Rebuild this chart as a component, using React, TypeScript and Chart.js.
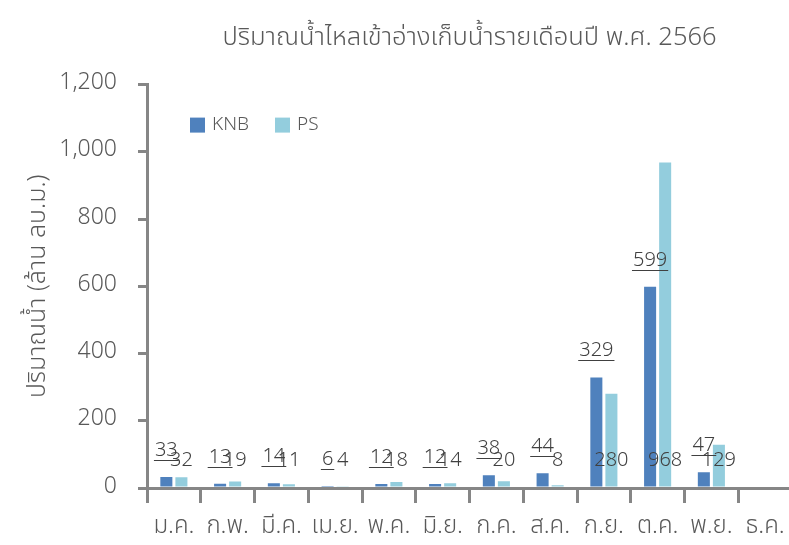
import React, { useEffect, useRef } from 'react';
import { Chart, registerables } from 'chart.js';

Chart.register(...registerables);

const months = ['ม.ค.', 'ก.พ.', 'มี.ค.', 'เม.ย.', 'พ.ค.', 'มิ.ย.', 'ก.ค.', 'ส.ค.', 'ก.ย.', 'ต.ค.', 'พ.ย.', 'ธ.ค.'];
const knbValues: (number | null)[] = [33, 13, 14, 6, 12, 12, 38, 44, 329, 599, 47, null];
const psValues: (number | null)[] = [32, 19, 11, 4, 18, 14, 20, 8, 280, 968, 129, null];
const seriesNames = ['KNB', 'PS'];
const seriesColors = ['#4F81BD', '#93CDDD'];
const yMax = 1200;
const yStep = 200;
const chartTitle = 'ปริมาณน้ำไหลเข้าอ่างเก็บน้ำรายเดือนปี พ.ศ. 2566';
const yAxisTitle = 'ปริมาณน้ำ (ล้าน ลบ.ม.)';

const FONT = "'Noto Sans Thai', 'Leelawadee UI', Tahoma, 'Noto Sans', 'DejaVu Sans', sans-serif";
const TEXT = '#595959';
const LABEL = '#404040';
const AXIS = '#868686';

const valueLabels = {
  id: 'valueLabels',
  afterDatasetsDraw(chart: any) {
    const ctx = chart.ctx;
    const base = chart.scales.y.getPixelForValue(0);
    ctx.save();
    ctx.font = `300 20px ${FONT}`;
    ctx.fillStyle = LABEL;
    ctx.strokeStyle = LABEL;
    ctx.lineWidth = 1;
    ctx.textAlign = 'center';
    ctx.textBaseline = 'middle';
    chart.getDatasetMeta(0).data.forEach((bar: any, i: number) => {
      const v = knbValues[i];
      if (v == null) return;
      const t = String(v);
      ctx.fillText(t, bar.x, bar.y - 25);
      const w = ctx.measureText(t).width;
      const ly = Math.round(bar.y - 17) + 0.5;
      ctx.beginPath();
      ctx.moveTo(bar.x - w / 2 - 1, ly);
      ctx.lineTo(bar.x + w / 2 + 1, ly);
      ctx.stroke();
    });
    chart.getDatasetMeta(1).data.forEach((bar: any, i: number) => {
      const v = psValues[i];
      if (v == null) return;
      ctx.fillText(String(v), bar.x, base - 26);
    });
    ctx.restore();
  },
};

const innerLegend = {
  id: 'innerLegend',
  afterDraw(chart: any) {
    const ctx = chart.ctx;
    const { left, top } = chart.chartArea;
    const starts = [left + 43, left + 128];
    ctx.save();
    ctx.font = `300 19px ${FONT}`;
    ctx.textBaseline = 'middle';
    ctx.textAlign = 'left';
    chart.data.datasets.forEach((ds: any, i: number) => {
      const x = starts[i];
      const y = top + 33;
      ctx.fillStyle = ds.backgroundColor;
      ctx.fillRect(x, y, 15, 15);
      ctx.fillStyle = TEXT;
      ctx.fillText(ds.label, x + 22, y + 9);
    });
    ctx.restore();
  },
};

export default function App() {
  const ref = useRef<HTMLCanvasElement>(null);
  useEffect(() => {
    if (!ref.current) return;
    const chart = new Chart(ref.current, {
      type: 'bar',
      data: {
        labels: months,
        datasets: [
          { label: seriesNames[0], data: knbValues, backgroundColor: seriesColors[0], categoryPercentage: 0.56, barPercentage: 0.8 },
          { label: seriesNames[1], data: psValues, backgroundColor: seriesColors[1], categoryPercentage: 0.56, barPercentage: 0.8 },
        ],
      } as any,
      options: {
        responsive: false,
        animation: false,
        devicePixelRatio: 1,
        layout: { padding: { left: 0, right: 8, top: 0, bottom: 0 } },
        plugins: {
          legend: { display: false },
          tooltip: { enabled: false },
          title: {
            display: true,
            text: chartTitle,
            fullSize: false,
            color: TEXT,
            font: { family: FONT, size: 25.5, weight: '300' },
            padding: { top: 25, bottom: 29 },
          },
        },
        scales: {
          x: {
            grid: { display: true, drawOnChartArea: false, drawTicks: true, tickLength: 15, color: AXIS, lineWidth: 3, offset: true },
            border: { display: true, color: AXIS, width: 3 },
            ticks: { color: TEXT, font: { family: FONT, size: 24, weight: '300' }, padding: 11, maxRotation: 0, autoSkip: false },
            afterFit: (s: any) => { s.height = 57; s.paddingLeft = 0; s.paddingRight = 0; },
          },
          y: {
            min: 0,
            max: yMax,
            grid: { display: true, drawOnChartArea: false, drawTicks: true, tickLength: 9, color: AXIS, lineWidth: 3 },
            border: { display: true, color: AXIS, width: 3 },
            ticks: {
              stepSize: yStep,
              color: TEXT,
              font: { family: FONT, size: 23, weight: '300' },
              padding: 21,
              callback: (v: any) => Number(v).toLocaleString('en-US'),
            },
            title: {
              display: true,
              text: yAxisTitle,
              color: TEXT,
              font: { family: FONT, size: 25, weight: '300' },
              padding: { top: 25, bottom: 0 },
            },
            afterFit: (s: any) => { s.width = 147; },
          },
        },
      } as any,
      plugins: [valueLabels, innerLegend],
    });
    return () => chart.destroy();
  }, []);
  return (
    <div style={{ position: 'fixed', left: 0, top: 0, width: 789, height: 545, overflow: 'hidden', background: '#fff' }}>
      <canvas ref={ref} width={800} height={545} style={{ display: 'block' }} />
    </div>
  );
}
